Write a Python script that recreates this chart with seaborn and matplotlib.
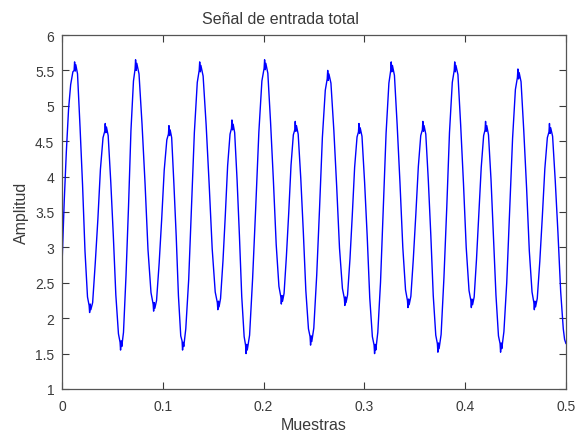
import numpy as np
import pandas as pd
import matplotlib
matplotlib.use("Agg")
import matplotlib.pyplot as plt
import seaborn as sns

# Sampled input signal: time (s) and amplitude, one row per half cycle
tiempo = [
    0.0000, 0.0022, 0.0043, 0.0065, 0.0086, 0.0108,
    0.0120, 0.0125, 0.0131, 0.0137, 0.0154, 0.0179, 0.0204, 0.0228, 0.0253,
    0.0269, 0.0274, 0.0280, 0.0286, 0.0304, 0.0330, 0.0356, 0.0381, 0.0407,
    0.0424, 0.0429, 0.0435, 0.0441, 0.0458, 0.0484, 0.0509, 0.0534, 0.0560,
    0.0576, 0.0581, 0.0587, 0.0593, 0.0610, 0.0635, 0.0660, 0.0684, 0.0709,
    0.0725, 0.0730, 0.0736, 0.0742, 0.0764, 0.0794, 0.0824, 0.0853, 0.0883,
    0.0904, 0.0909, 0.0915, 0.0921, 0.0938, 0.0964, 0.0989, 0.1014, 0.1040,
    0.1056, 0.1061, 0.1067, 0.1073, 0.1088, 0.1110, 0.1133, 0.1155, 0.1178,
    0.1191, 0.1196, 0.1202, 0.1208, 0.1228, 0.1257, 0.1285, 0.1313, 0.1342,
    0.1361, 0.1366, 0.1372, 0.1378, 0.1400, 0.1430, 0.1460, 0.1490, 0.1520,
    0.1541, 0.1546, 0.1552, 0.1558, 0.1573, 0.1597, 0.1620, 0.1643, 0.1667,
    0.1681, 0.1686, 0.1692, 0.1698, 0.1713, 0.1737, 0.1760, 0.1783, 0.1807,
    0.1821, 0.1826, 0.1832, 0.1838, 0.1861, 0.1891, 0.1922, 0.1953, 0.1983,
    0.2005, 0.2010, 0.2016, 0.2022, 0.2042, 0.2069, 0.2097, 0.2125, 0.2152,
    0.2171, 0.2176, 0.2182, 0.2188, 0.2203, 0.2226, 0.2249, 0.2272, 0.2295,
    0.2309, 0.2314, 0.2320, 0.2326, 0.2343, 0.2369, 0.2394, 0.2419, 0.2445,
    0.2461, 0.2466, 0.2472, 0.2478, 0.2498, 0.2527, 0.2555, 0.2583, 0.2612,
    0.2631, 0.2636, 0.2642, 0.2648, 0.2668, 0.2697, 0.2725, 0.2753, 0.2782,
    0.2801, 0.2806, 0.2812, 0.2818, 0.2833, 0.2857, 0.2880, 0.2903, 0.2927,
    0.2941, 0.2946, 0.2952, 0.2958, 0.2976, 0.3002, 0.3028, 0.3053, 0.3079,
    0.3096, 0.3101, 0.3107, 0.3113, 0.3133, 0.3160, 0.3188, 0.3215, 0.3243,
    0.3261, 0.3266, 0.3272, 0.3278, 0.3298, 0.3325, 0.3353, 0.3381, 0.3408,
    0.3427, 0.3432, 0.3438, 0.3444, 0.3461, 0.3485, 0.3510, 0.3535, 0.3559,
    0.3575, 0.3580, 0.3586, 0.3592, 0.3609, 0.3634, 0.3659, 0.3683, 0.3708,
    0.3724, 0.3729, 0.3735, 0.3741, 0.3761, 0.3789, 0.3817, 0.3844, 0.3872,
    0.3891, 0.3896, 0.3902, 0.3908, 0.3928, 0.3955, 0.3983, 0.4010, 0.4038,
    0.4056, 0.4061, 0.4067, 0.4073, 0.4089, 0.4112, 0.4136, 0.4159, 0.4183,
    0.4197, 0.4202, 0.4208, 0.4214, 0.4231, 0.4256, 0.4281, 0.4305, 0.4330,
    0.4346, 0.4351, 0.4357, 0.4363, 0.4384, 0.4412, 0.4441, 0.4470, 0.4498,
    0.4518, 0.4523, 0.4529, 0.4535, 0.4554, 0.4581, 0.4609, 0.4636, 0.4663,
    0.4681, 0.4686, 0.4692, 0.4698, 0.4715, 0.4740, 0.4765, 0.4790, 0.4815,
    0.4831, 0.4836, 0.4842, 0.4848, 0.4867, 0.4893, 0.4920, 0.4947, 0.4973,
    0.4986, 0.5000,
]

amplitud = [
    2.75, 3.65, 4.35, 4.95, 5.30, 5.48,
    5.50, 5.62, 5.49, 5.58, 5.45, 4.70, 3.88, 2.95, 2.30,
    2.18, 2.08, 2.20, 2.12, 2.22, 2.78, 3.40, 4.10, 4.55,
    4.64, 4.75, 4.62, 4.70, 4.58, 3.92, 3.17, 2.33, 1.78,
    1.66, 1.55, 1.68, 1.60, 1.80, 2.60, 3.58, 4.65, 5.35,
    5.52, 5.65, 5.50, 5.60, 5.45, 4.74, 3.90, 2.97, 2.36,
    2.20, 2.10, 2.22, 2.14, 2.25, 2.78, 3.40, 4.09, 4.52,
    4.60, 4.72, 4.58, 4.66, 4.55, 3.90, 3.16, 2.32, 1.75,
    1.68, 1.55, 1.66, 1.60, 1.85, 2.55, 3.60, 4.62, 5.33,
    5.50, 5.62, 5.48, 5.57, 5.42, 4.73, 3.89, 2.98, 2.37,
    2.22, 2.12, 2.24, 2.16, 2.28, 2.81, 3.45, 4.15, 4.60,
    4.68, 4.80, 4.66, 4.74, 4.62, 3.95, 3.17, 2.31, 1.74,
    1.62, 1.50, 1.63, 1.55, 1.76, 2.56, 3.57, 4.63, 5.35,
    5.53, 5.65, 5.51, 5.60, 5.46, 4.77, 3.95, 3.04, 2.45,
    2.30, 2.20, 2.32, 2.24, 2.35, 2.87, 3.48, 4.16, 4.59,
    4.66, 4.78, 4.64, 4.72, 4.60, 3.97, 3.22, 2.39, 1.85,
    1.74, 1.62, 1.75, 1.67, 1.86, 2.61, 3.55, 4.55, 5.22,
    5.38, 5.50, 5.36, 5.45, 5.32, 4.65, 3.86, 2.99, 2.42,
    2.28, 2.18, 2.30, 2.22, 2.33, 2.84, 3.46, 4.13, 4.56,
    4.63, 4.75, 4.61, 4.69, 4.57, 3.92, 3.15, 2.29, 1.74,
    1.62, 1.50, 1.63, 1.55, 1.80, 2.51, 3.57, 4.61, 5.32,
    5.50, 5.62, 5.48, 5.57, 5.43, 4.73, 3.91, 3.00, 2.40,
    2.25, 2.15, 2.27, 2.19, 2.31, 2.83, 3.46, 4.14, 4.58,
    4.66, 4.78, 4.64, 4.72, 4.60, 3.95, 3.17, 2.32, 1.76,
    1.64, 1.52, 1.65, 1.57, 1.77, 2.57, 3.56, 4.62, 5.33,
    5.50, 5.62, 5.48, 5.57, 5.44, 4.73, 3.90, 3.00, 2.39,
    2.25, 2.15, 2.27, 2.19, 2.30, 2.83, 3.48, 4.13, 4.58,
    4.66, 4.78, 4.64, 4.72, 4.59, 3.96, 3.14, 2.33, 1.75,
    1.64, 1.52, 1.65, 1.57, 1.81, 2.50, 3.53, 4.54, 5.23,
    5.40, 5.52, 5.38, 5.47, 5.34, 4.65, 3.84, 2.95, 2.37,
    2.22, 2.12, 2.24, 2.16, 2.28, 2.80, 3.43, 4.11, 4.55,
    4.63, 4.75, 4.61, 4.69, 4.57, 3.95, 3.21, 2.38, 1.85,
    1.70, 1.64,
]

x_ticks = [0, 0.1, 0.2, 0.3, 0.4, 0.5]
x_labels = ["0", "0.1", "0.2", "0.3", "0.4", "0.5"]
y_ticks = [1, 1.5, 2, 2.5, 3, 3.5, 4, 4.5, 5, 5.5, 6]
y_labels = ["1", "1.5", "2", "2.5", "3", "3.5", "4", "4.5", "5", "5.5", "6"]

sns.set_theme(style="white")
plt.rcParams["font.family"] = ["Liberation Sans", "DejaVu Sans"]

ink = "#3a3a3a"
fig = plt.figure(figsize=(5.77, 4.35), dpi=100)
fig.patch.set_facecolor("white")
ax = fig.add_axes([62 / 577, 45 / 435, 504 / 577, 354 / 435])

df = pd.DataFrame({"t": tiempo, "a": amplitud})
sns.lineplot(data=df, x="t", y="a", ax=ax, sort=False, estimator=None,
             color="#0000ff", linewidth=1.0)

ax.set_xlim(0, 0.5)
ax.set_ylim(1, 6)
ax.set_xticks(x_ticks)
ax.set_xticklabels(x_labels)
ax.set_yticks(y_ticks)
ax.set_yticklabels(y_labels)
ax.tick_params(direction="in", length=5, width=0.8, colors=ink,
               labelsize=10, top=True, right=True, bottom=True, left=True)
ax.tick_params(axis="x", pad=7)
ax.tick_params(axis="y", pad=5.5)
for side in ax.spines.values():
    side.set_color("#555555")
    side.set_linewidth(0.9)
    side.set_visible(True)

ax.set_xlabel("Muestras", fontsize=11.5, color=ink, labelpad=3)
ax.set_ylabel("Amplitud", fontsize=11.5, color=ink, labelpad=4)
ax.set_title("Señal de entrada total", fontsize=11.5, color=ink, pad=9)
ax.title.set_x((280 - 62) / 504)

fig.savefig("out.png", dpi=100, facecolor="white")
